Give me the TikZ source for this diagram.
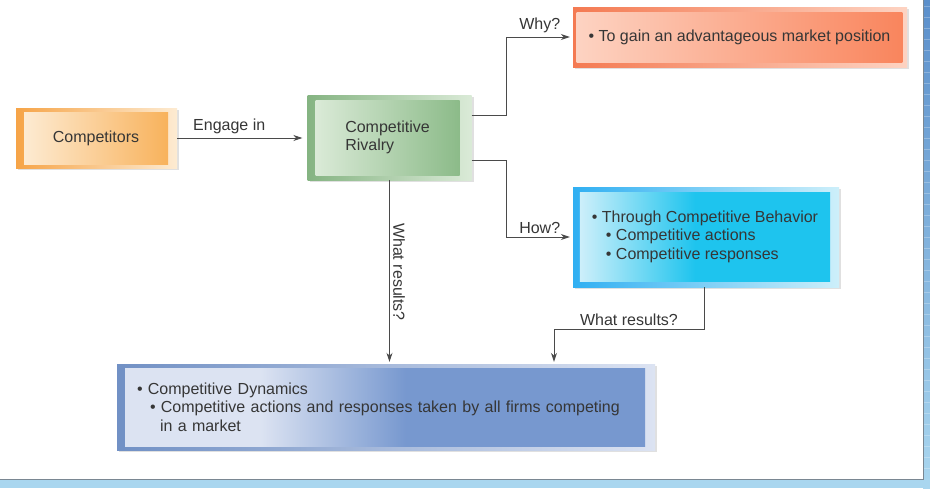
\documentclass[tikz,border=0pt]{standalone}
\usepackage{fontspec}
\setmainfont{Liberation Sans}
\usetikzlibrary{arrows.meta,shadows}

\definecolor{inktext}{HTML}{363636}
\definecolor{linegray}{HTML}{4A4A4A}
\definecolor{framegray}{HTML}{7A8792}
\definecolor{orangedark}{HTML}{F6A447}
\definecolor{orangemid}{HTML}{F8B25C}
\definecolor{orangelight}{HTML}{FDEBD2}
\definecolor{greendark}{HTML}{85B482}
\definecolor{greenmid}{HTML}{8CBB89}
\definecolor{greenlight}{HTML}{DAEAD7}
\definecolor{reddark}{HTML}{F47A52}
\definecolor{redmid}{HTML}{F9855D}
\definecolor{redlight}{HTML}{FDD3C2}
\definecolor{cyandark}{HTML}{1EC4EE}
\definecolor{cyanlight}{HTML}{CDEFFA}
\definecolor{bluedark}{HTML}{7798CF}
\definecolor{bluelight}{HTML}{DCE3F2}
\definecolor{striptop}{HTML}{5B8FCB}
\definecolor{stripbot}{HTML}{A9D6EF}

\pgfdeclarehorizontalshading{howshade}{100bp}{color(0bp)=(cyanlight); color(25bp)=(cyanlight); color(48bp)=(cyandark); color(100bp)=(cyandark)}
\pgfdeclarehorizontalshading{dynshade}{100bp}{color(0bp)=(bluelight); color(38bp)=(bluelight); color(52bp)=(bluedark); color(100bp)=(bluedark)}

\tikzset{
  outerbox/.style={rectangle,inner sep=0pt,drop shadow={shadow xshift=2pt,shadow yshift=-2pt,fill=black,opacity=0.12}},
  innerbox/.style={rectangle,inner xsep=12pt,inner ysep=0pt,text=inktext,align=left},
  conn/.style={draw=linegray,line width=0.9pt,-{Stealth[length=9pt,width=6pt]}},
  lbl/.style={text=inktext}
}

\begin{document}
\begin{tikzpicture}[x=1pt,y=-1pt,every node/.style={font=\fontsize{16}{18.5}\selectfont}]
\useasboundingbox (0,0) rectangle (930,488);
% page frame
\fill[white] (0,0) rectangle (923,479);
\shade[top color=striptop,bottom color=stripbot] (923,0) rectangle (930,488);
\fill[stripbot] (0,479) rectangle (930,488);
\foreach \y in {6,17,...,474} \draw[white,opacity=0.25,line width=0.6pt] (924,\y) -- (930,\y);
\draw[framegray,line width=1pt] (0,479.5) -- (923.5,479.5) -- (923.5,0);

% boxes
\node[outerbox,minimum width=161pt,minimum height=60pt,left color=orangedark,right color=orangelight] (comp-o) at (96.5,138) {};
\node[innerbox,minimum width=144pt,minimum height=52pt,left color=orangelight,right color=orangemid,align=center] (comp) at (96,138) {Competitors};

\node[outerbox,minimum width=164pt,minimum height=85pt,left color=greendark,right color=greenlight] (riv-o) at (389.5,137.5) {};
\node[innerbox,minimum width=144pt,minimum height=75pt,left color=greenlight,right color=greenmid] (riv) at (387.5,137.5) {Competitive\\Rivalry};

\node[outerbox,minimum width=334pt,minimum height=60pt,left color=reddark,right color=redlight] (why-o) at (740,37) {};
\node[innerbox,minimum width=315pt,minimum height=50pt,left color=redlight,right color=redmid] (why) at (739.5,37) {• To gain an advantageous market position};

\node[outerbox,minimum width=266pt,minimum height=100pt,left color=cyandark!85!blue!90,right color=cyanlight] (how-o) at (706,237) {};
\node[innerbox,minimum width=248pt,minimum height=89pt,shade,shading=howshade] (how) at (705,236.5)
  {• Through Competitive Behavior\\\hspace*{14pt}• Competitive actions\\\hspace*{14pt}• Competitive responses};

\node[outerbox,minimum width=538pt,minimum height=86pt,left color=bluedark!95!black,right color=bluelight] (dyn-o) at (386,407) {};
\node[innerbox,minimum width=520pt,minimum height=78pt,text width=496pt,shade,shading=dynshade] (dyn) at (385,407)
  {• Competitive Dynamics\\\hspace*{13pt}• Competitive actions and responses taken by all firms competing\\\hspace*{23pt}in a market};

% connectors
\draw[conn,shorten >=5pt] (comp-o.east) -- (comp-o.east -| riv-o.west) node[pos=0.4,above,lbl] {Engage in};
\draw[conn,shorten >=3pt] ([yshift=22.5pt]riv-o.east) -- ++(35,0) |- (why-o.west) node[pos=0.75,above,lbl] {Why?};
\draw[conn,shorten >=3pt] ([yshift=-22.5pt]riv-o.east) -- ++(35,0) |- (how-o.west) node[pos=0.75,above,lbl] {How?};
\draw[conn,shorten >=2pt] (riv-o.south) -- (riv-o.south |- dyn-o.north) node[midway,rotate=-90,anchor=south,lbl] {What results?};
\draw[conn,shorten >=2pt] ([xshift=-2pt]how-o.south) -- ++(0,42) -| node[pos=0.25,above,lbl] {What results?} ([xshift=168pt]dyn-o.north);
\end{tikzpicture}
\end{document}
